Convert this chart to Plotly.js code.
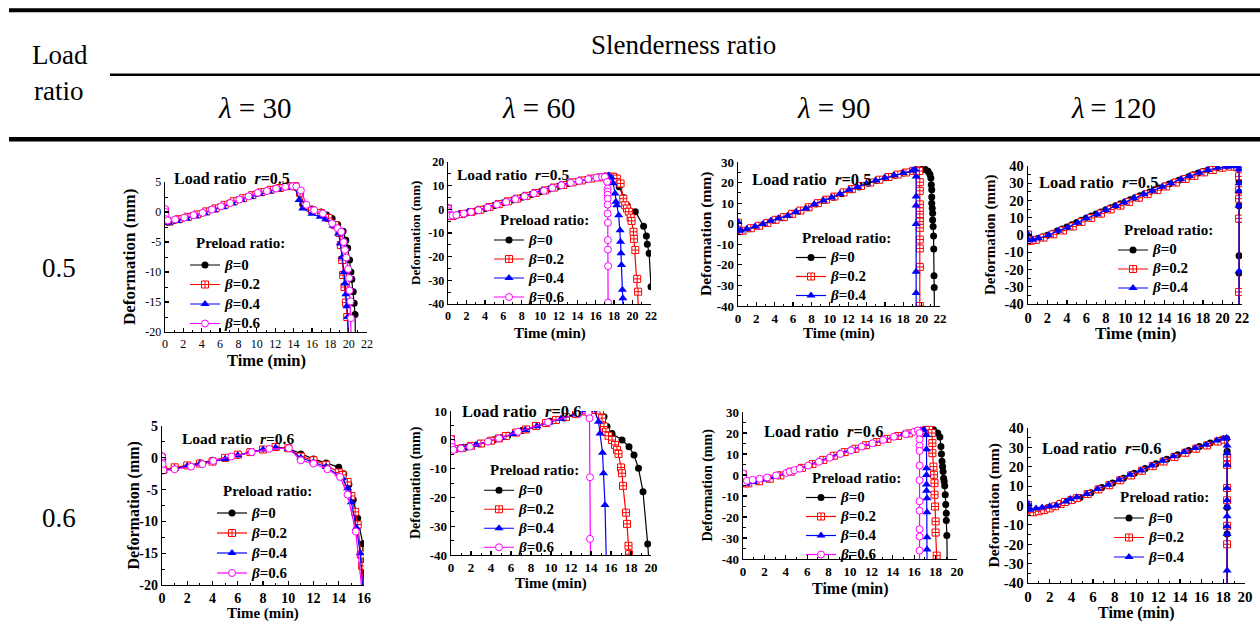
<!DOCTYPE html>
<html>
<head>
<meta charset="utf-8">
<script src="https://cdn.plot.ly/plotly-3.0.1.min.js"></script>
<style>
  html, body { margin: 0; padding: 0; background: #ffffff; }
  #chart { width: 1260px; height: 639px; }
</style>
</head>
<body>
<div id="chart"></div>
<script>
// ---- Table headings ----
const loadRatios = ['0.5', '0.6'];
const slenderness = ['30', '60', '90', '120'];
const preloadRatios = ['0', '0.2', '0.4', '0.6'];

// ---- Deformation (mm) vs time (min) ----
// lambda = 30, r = 0.5
const l30r5_b0_t = [0, 0.05, 0.3, 1, 2, 3, 4, 5, 6, 7, 8, 9, 10, 11, 12, 13, 13.8, 14.3, 15, 16, 17, 17.6, 18.2, 18.8, 19.4, 19.7, 19.9, 20.1, 20.25, 20.35, 20.5, 20.6, 20.7, 20.75];
const l30r5_b0_d = [0.3, -1.6, -1.7, -1.4, -1.0, -0.6, -0.2, 0.4, 0.9, 1.5, 2.1, 2.6, 3.1, 3.5, 3.9, 4.2, 4.3, 4.1, 1.3, 0.5, 0.0, -0.5, -1.1, -2.1, -3.2, -4.7, -6.0, -8.0, -10.0, -11.2, -13.3, -15.2, -17.1, -22];
const l30r5_b2_t = [0, 0.05, 0.5, 1.5, 2.5, 3.5, 4.5, 5.5, 6.5, 7.5, 8.5, 9.5, 10.5, 11.5, 12.5, 13.5, 14.2, 14.7, 15.2, 16, 17, 17.8, 18.5, 19, 19.15, 19.3, 19.4, 19.55, 19.7, 19.85, 20];
const l30r5_b2_d = [0.2, -1.5, -1.6, -1.2, -0.8, -0.4, 0.1, 0.6, 1.2, 1.8, 2.3, 2.8, 3.3, 3.7, 4.0, 4.3, 4.3, 3.2, 1.0, 0.3, -0.2, -1.0, -2.2, -3.5, -5.5, -8.0, -10.5, -12.5, -15.1, -17.5, -22];
const l30r5_b4_t = [0, 0.05, 0.4, 1.3, 2.3, 3.3, 4.3, 5.3, 6.3, 7.3, 8.3, 9.3, 10.3, 11.3, 12.3, 13.3, 14.1, 14.6, 15, 16, 16.9, 17.5, 18.3, 18.9, 19.1, 19.3, 19.5, 19.6, 19.7, 19.8, 19.9, 20];
const l30r5_b4_d = [0.2, -1.7, -1.8, -1.5, -1.1, -0.7, -0.2, 0.3, 0.8, 1.4, 2.0, 2.5, 3.0, 3.4, 3.8, 4.1, 4.2, 2.0, 0.6, -0.3, -0.8, -1.2, -2.3, -3.6, -5.2, -7.5, -10.0, -11.9, -13.7, -15.7, -17.5, -22];
const l30r5_b6_t = [0, 0.03, 0.06, 0.1, 0.3, 1.1, 2.1, 3.1, 4.1, 5.1, 6.1, 7.1, 8.1, 9.1, 10.1, 11.1, 12.1, 13.1, 13.9, 14.3, 14.8, 15.4, 16.25, 17.2, 18.2, 18.8, 19.2, 19.45, 19.6, 19.75, 19.95, 20.05, 20.1, 20.2, 20.25, 20.3];
const l30r5_b6_d = [0.5, 0.0, -0.6, -1.2, -1.4, -1.25, -0.92, -0.53, -0.14, 0.41, 0.96, 1.5, 2.07, 2.6, 3.2, 3.5, 3.9, 4.2, 4.3, 4.25, 3.6, 1.2, 0.3, -0.25, -1.9, -2.7, -3.3, -5.0, -6.3, -7.6, -9.5, -11.0, -13.1, -14.9, -17.7, -22];

// lambda = 60, r = 0.5
const l60r5_b0_t = [0, 0.05, 0.3, 1, 2, 3, 4, 5, 6, 7, 8, 9, 10, 11, 12, 13, 14, 15, 16, 17, 17.6, 18.1, 18.55, 19.0, 19.4, 20.3, 21.2, 21.5, 21.6, 21.8, 22.0];
const l60r5_b0_d = [0.5, -2.8, -2.9, -2.4, -1.5, -0.7, 0.4, 1.6, 2.8, 3.9, 5.1, 6.3, 7.4, 8.6, 9.8, 10.9, 11.8, 12.6, 13.3, 13.8, 14.0, 13.8, 9.5, 5.0, 1.7, -1.0, -7.1, -11.3, -14.8, -18.6, -32.7];
const l60r5_b2_t = [0, 0.05, 0.5, 1.5, 2.5, 3.5, 4.5, 5.5, 6.5, 7.5, 8.5, 9.5, 10.5, 11.5, 12.5, 13.5, 14.5, 15.5, 16.5, 17.3, 17.9, 18.3, 18.7, 19.0, 19.2, 19.4, 19.6, 19.8, 19.9, 20.1, 20.15, 20.3, 20.5, 20.6, 20.7];
const l60r5_b2_d = [0.4, -2.9, -2.8, -2.0, -1.1, -0.2, 1.0, 2.2, 3.4, 4.5, 5.7, 6.9, 8.0, 9.2, 10.3, 11.4, 12.2, 13.0, 13.5, 13.9, 13.8, 13.0, 10.9, 4.5, 1.7, 0.3, -1.0, -3.5, -4.9, -9.5, -12.5, -17.2, -29.4, -34.8, -45];
const l60r5_b4_t = [0, 0.05, 0.3, 1.2, 2.2, 3.2, 4.2, 5.2, 6.2, 7.2, 8.2, 9.2, 10.2, 11.2, 12.2, 13.2, 14.2, 15.2, 16.2, 17.0, 17.4, 17.7, 17.9, 18.1, 18.2, 18.3, 18.5, 18.65, 18.7, 18.75, 18.8, 18.9, 18.95, 19.0];
const l60r5_b4_d = [0.6, -2.6, -2.7, -2.0, -1.1, -0.3, 0.9, 2.1, 3.3, 4.5, 5.7, 6.8, 8.0, 9.2, 10.3, 11.3, 12.1, 12.9, 13.6, 14.0, 14.3, 13.5, 11.0, 6.7, 3.2, 1.7, -2.5, -8.8, -13.7, -18.6, -23.5, -34.0, -37.6, -45];
const l60r5_b6_t = [0, 0.03, 0.06, 0.2, 0.5, 0.9, 1.7, 2.5, 3.3, 4.3, 5.3, 6.3, 7.3, 8.3, 9.3, 10.4, 11.3, 12.3, 13.3, 14.2, 15.2, 16.1, 16.7, 17.0, 17.25, 17.3, 17.3, 17.3, 17.3, 17.3, 17.3, 17.33, 17.33, 17.33, 17.35, 17.35];
const l60r5_b6_d = [0.3, -0.8, -2.2, -2.75, -2.6, -2.4, -1.8, -1.1, -0.4, 0.75, 2.0, 3.1, 4.3, 5.5, 6.7, 7.8, 9.0, 10.2, 11.2, 12.0, 12.8, 13.4, 13.7, 13.7, 11.6, 8.8, 7.5, 6.2, 4.5, 2.0, -1.8, -5.7, -13.0, -17.0, -24.0, -39.4];

// lambda = 90, r = 0.5
const l90r5_b0_t = [0, 0.05, 0.4, 1.2, 2.1, 3.0, 3.9, 4.8, 5.7, 6.6, 7.6, 8.5, 9.4, 10.4, 11.3, 12.3, 13.2, 14.2, 15.1, 16.1, 17.1, 18.0, 18.9, 19.5, 20.0, 20.4, 20.7, 20.9, 21.0, 21.05, 21.1, 21.1, 21.1, 21.15, 21.2, 21.2, 21.25, 21.3, 21.32, 21.35, 21.37, 21.4];
const l90r5_b0_d = [0.5, -3.5, -3.4, -2.4, -1.2, 0.2, 1.7, 2.9, 4.4, 6.0, 7.8, 9.6, 11.3, 12.9, 14.6, 16.5, 17.9, 19.7, 21.0, 22.4, 23.6, 24.6, 25.6, 26.1, 26.3, 26.3, 25.5, 24.0, 22.2, 19.0, 16.5, 13.0, 10.0, 7.5, 5.1, 1.8, -1.4, -6.0, -12.3, -25.3, -31.0, -45];
const l90r5_b2_t = [0, 0.05, 0.5, 1.4, 2.3, 3.2, 4.1, 5.0, 5.9, 6.8, 7.7, 8.7, 9.6, 10.5, 11.5, 12.4, 13.4, 14.4, 15.4, 16.4, 17.4, 18.3, 19.1, 19.5, 19.75, 19.8, 19.8, 19.8, 19.8, 19.8, 19.8, 19.8, 19.8, 19.8, 19.8, 19.8];
const l90r5_b2_d = [0.5, -3.6, -3.4, -2.2, -1.0, 0.4, 1.9, 3.2, 4.8, 6.4, 8.0, 10.0, 11.7, 13.2, 15.2, 16.8, 18.4, 20.0, 21.4, 22.7, 23.9, 24.9, 25.7, 25.9, 25.6, 20.2, 16.0, 9.4, 6.0, 3.0, 1.0, -2.0, -7.7, -12.0, -21.0, -40];
const l90r5_b4_t = [0, 0.05, 0.3, 0.94, 1.85, 2.7, 3.56, 4.4, 5.4, 6.3, 7.4, 8.3, 9.3, 10.2, 11.1, 12.1, 13.0, 14.0, 15.0, 16.0, 17.0, 18.0, 19.0, 19.3, 19.4, 19.4, 19.4, 19.4, 19.4, 19.4, 19.4];
const l90r5_b4_d = [0.8, -3.4, -3.3, -2.6, -1.4, -0.1, 1.4, 2.6, 3.9, 5.7, 7.4, 9.5, 11.3, 12.7, 14.5, 16.5, 17.8, 19.6, 21.0, 22.3, 23.5, 24.6, 25.8, 26.3, 23.0, 13.2, 8.8, -0.1, -23.4, -33.7, -45];

// lambda = 120, r = 0.5
const l120r5_b0_t = [0, 0.05, 0.3, 0.6, 1.0, 1.5, 2.0, 2.5, 3.0, 3.5, 4.0, 4.5, 5.0, 5.5, 6.0, 6.5, 7.0, 7.5, 8.0, 8.5, 9.0, 9.5, 10.0, 10.5, 11.0, 11.5, 12.0, 12.5, 13.0, 13.5, 14.0, 14.5, 15.0, 15.5, 16.0, 16.5, 17.0, 17.5, 18.0, 18.5, 19.0, 19.5, 20.0, 20.5, 21.0, 21.5, 21.7, 21.7, 21.7, 21.7, 21.7, 21.7];
const l120r5_b0_d = [0.5, -3.0, -3.0, -2.6, -2.0, -1.2, -0.2, 1.0, 2.3, 3.5, 4.6, 5.9, 7.2, 8.5, 9.8, 11.0, 12.2, 13.4, 14.6, 15.8, 17.0, 18.1, 19.3, 20.5, 21.6, 22.7, 23.9, 25.0, 26.2, 27.3, 28.4, 29.5, 30.6, 31.7, 32.8, 33.8, 34.9, 35.9, 36.8, 37.7, 38.4, 39.0, 39.5, 39.8, 40.0, 40.0, 31.0, 17.0, 9.0, -12.0, -22.0, -45];
const l120r5_b2_t = [0, 0.05, 0.3, 0.8, 1.6, 2.6, 3.6, 4.6, 5.5, 6.5, 7.5, 8.5, 9.5, 10.4, 11.4, 12.3, 13.3, 14.2, 15.2, 16.2, 17.1, 18.1, 19.0, 20.0, 20.9, 21.5, 21.7, 21.7, 21.7, 21.7, 21.7, 21.7];
const l120r5_b2_d = [0.3, -3.3, -3.3, -2.8, -1.5, 0.4, 2.6, 4.9, 7.6, 9.9, 12.4, 14.8, 17.0, 19.2, 21.6, 23.7, 26.0, 28.1, 30.4, 32.5, 34.3, 36.3, 37.7, 39.0, 39.6, 39.7, 34.0, 26.0, 21.0, 9.5, -33.0, -45];
const l120r5_b4_t = [0, 0.05, 0.5, 1.07, 2.1, 3.1, 4.05, 5.1, 6.0, 7.1, 8.0, 9.0, 9.9, 10.9, 11.9, 12.8, 13.8, 14.7, 15.7, 16.6, 17.6, 18.5, 19.5, 20.4, 21.1, 21.6, 21.7, 21.7, 21.7, 21.7, 21.7, 21.7];
const l120r5_b4_d = [0.5, -3.0, -2.7, -1.9, 0.0, 2.5, 4.4, 7.1, 9.7, 12.0, 14.5, 16.8, 18.9, 21.3, 23.6, 25.7, 28.0, 30.0, 32.3, 34.2, 36.1, 37.7, 39.0, 39.6, 39.8, 39.8, 38.0, 30.0, 25.5, 17.0, -21.0, -45];

// lambda = 30, r = 0.6
const l30r6_b0_t = [0, 0.1, 1, 2, 3, 4, 5, 6, 7, 8, 9, 10, 11, 12, 13, 14, 14.4, 14.8, 15.15, 15.5, 15.9, 16.02];
const l30r6_b0_d = [0.3, -1.8, -1.6, -1.2, -0.8, -0.4, -0.1, 0.4, 0.9, 1.3, 1.6, 1.5, 0.6, -0.2, -0.8, -1.5, -2.5, -4.2, -6.6, -9.5, -13.5, -22];
const l30r6_b2_t = [0, 0.1, 1, 2, 3, 4, 5, 6, 7, 8, 9, 10, 11, 12, 13, 14, 14.3, 14.7, 15.0, 15.3, 15.5, 15.75, 15.85, 16.0];
const l30r6_b2_d = [0.0, -1.9, -1.5, -1.2, -0.9, -0.6, 0.0, 0.5, 0.9, 1.3, 1.7, 1.5, 0.2, -0.4, -1.1, -2.3, -2.7, -3.8, -6.0, -8.5, -10.5, -15.2, -17.0, -22];
const l30r6_b4_t = [0, 0.1, 1, 2, 3, 4, 5, 6, 7, 8, 9, 10, 11, 12, 13, 14.3, 14.7, 15.0, 15.4, 15.7, 15.95];
const l30r6_b4_d = [0.0, -2.0, -1.7, -1.3, -0.9, -0.6, -0.2, 0.4, 0.9, 1.3, 1.6, 1.4, 0.0, -0.7, -1.4, -3.2, -4.8, -7.0, -11.0, -15.0, -22];
const l30r6_b6_t = [0, 0.05, 0.1, 1.0, 2.3, 3.2, 4.06, 5.5, 7.1, 8.5, 10.05, 11.0, 12.0, 13.1, 14.1, 14.7, 15.35, 15.9];
const l30r6_b6_d = [0.2, -1.0, -2.0, -1.8, -1.4, -1.0, -0.5, 0.2, 0.9, 1.4, 1.5, -0.4, -0.9, -1.8, -3.0, -5.8, -11.6, -22];

// lambda = 60, r = 0.6
const l60r6_b0_t = [0, 0.05, 0.3, 1.5, 2.9, 4.3, 5.7, 7.1, 8.5, 9.9, 11.3, 12.7, 14.0, 14.9, 15.3, 15.6, 16.1, 17.1, 17.8, 18.3, 18.75, 19.2, 19.67, 19.85];
const l60r6_b0_d = [0.3, -2.5, -3.0, -2.6, -1.4, 0.0, 1.6, 3.2, 4.8, 6.4, 7.6, 8.8, 10.2, 10.3, 8.0, 4.6, 2.2, -0.1, -2.4, -5.3, -9.9, -18.0, -36.2, -45];
const l60r6_b2_t = [0, 0.05, 0.3, 1.1, 2.0, 3.0, 4.0, 4.8, 5.5, 6.5, 7.5, 8.5, 9.5, 10.5, 11.5, 12.5, 13.5, 14.5, 14.9, 15.1, 15.3, 15.5, 15.75, 16.1, 16.4, 16.6, 16.75, 17.0, 17.1, 17.2, 17.5, 17.6, 17.75, 17.8, 17.85];
const l60r6_b2_d = [0.2, -2.6, -3.2, -2.9, -2.1, -1.3, -0.3, 0.5, 1.3, 2.5, 3.6, 4.8, 5.8, 6.9, 7.9, 8.9, 9.8, 10.4, 9.0, 7.5, 4.6, 2.8, 1.4, -0.1, -1.8, -3.5, -4.9, -9.6, -11.6, -16.0, -25.3, -29.2, -36.8, -39.7, -45];
const l60r6_b4_t = [0, 0.05, 0.3, 1.2, 2.5, 3.7, 5.0, 6.2, 7.4, 8.6, 9.8, 11.0, 12.4, 13.5, 14.3, 14.75, 14.9, 15.15, 15.25, 15.4, 15.55];
const l60r6_b4_d = [0.3, -2.4, -3.0, -2.7, -1.7, -0.6, 0.7, 2.0, 3.4, 4.7, 6.0, 7.3, 8.8, 10.3, 10.5, 6.3, 2.2, -4.5, -11.6, -22.6, -45];
const l60r6_b6_t = [0, 0.05, 0.1, 0.23, 1.0, 1.9, 3.7, 4.8, 6.7, 9.7, 12.75, 13.75, 13.85, 13.9, 13.9, 13.95];
const l60r6_b6_d = [0.3, -1.0, -2.5, -3.5, -3.0, -2.4, -0.6, 0.5, 2.8, 6.1, 9.0, 9.2, 7.5, -13.0, -34.4, -45];

// lambda = 90, r = 0.6
const l90r6_b0_t = [0, 0.05, 0.4, 1.4, 2.4, 3.4, 4.4, 5.4, 6.4, 7.4, 8.4, 9.4, 10.4, 11.4, 12.4, 13.4, 14.4, 15.4, 16.4, 17.3, 17.8, 18.2, 18.4, 18.5, 18.55, 18.6, 18.65, 18.7, 18.75, 18.8, 18.85, 18.9, 18.95, 19.0, 19.0, 19.05, 19.1];
const l90r6_b0_d = [0.3, -3.8, -4.0, -2.8, -1.6, 0.0, 1.6, 3.2, 5.0, 7.0, 8.9, 10.6, 12.2, 13.9, 15.4, 16.9, 18.3, 19.6, 20.6, 21.4, 21.6, 20.0, 18.1, 13.6, 10.0, 6.5, 4.0, 1.7, -1.5, -3.0, -5.1, -9.4, -14.0, -18.2, -21.7, -28.8, -45];
const l90r6_b2_t = [0, 0.05, 0.5, 1.5, 2.5, 3.5, 4.5, 5.5, 6.5, 7.5, 8.5, 9.5, 10.5, 11.5, 12.5, 13.5, 14.5, 15.5, 16.5, 17.1, 17.4, 17.65, 17.7, 17.7, 17.8, 17.85, 17.9, 17.9, 17.95, 18.0, 18.0, 18.1, 18.12];
const l90r6_b2_d = [0.3, -4.0, -4.0, -3.0, -1.8, -0.2, 1.6, 3.4, 5.2, 7.2, 9.2, 10.9, 12.5, 14.2, 15.7, 17.2, 18.6, 19.8, 20.8, 21.4, 21.5, 20.0, 15.2, 10.4, 4.0, 0.1, -3.9, -9.4, -15.0, -22.1, -27.4, -38.4, -45];
const l90r6_b4_t = [0, 0.05, 0.3, 1.0, 2.0, 3.0, 4.0, 5.0, 6.0, 7.0, 8.0, 9.0, 10.0, 11.0, 12.0, 13.0, 14.0, 15.0, 16.0, 16.6, 16.9, 17.15, 17.15, 17.15, 17.15, 17.15, 17.15, 17.2, 17.2, 17.2, 17.2, 17.2];
const l90r6_b4_d = [0.5, -3.8, -4.2, -3.3, -2.2, -0.8, 0.9, 2.5, 4.4, 6.4, 8.2, 10.4, 11.9, 13.5, 15.0, 16.6, 18.1, 19.5, 20.6, 21.3, 21.5, 19.0, 12.3, 3.2, 0.0, -4.5, -7.5, -11.1, -17.7, -29.7, -35.5, -45];
const l90r6_b6_t = [0, 0.05, 0.1, 0.37, 0.9, 1.56, 2.25, 3.1, 4.05, 4.36, 4.8, 5.3, 6.1, 7.1, 8.1, 9.1, 10.1, 11.1, 12.1, 13.1, 14.1, 15.2, 16.0, 16.35, 16.5, 16.5, 16.5, 16.5, 16.5, 16.5, 16.5, 16.5, 16.5, 16.5, 16.5, 16.5];
const l90r6_b6_d = [0.8, -1.5, -3.5, -2.75, -2.3, -1.8, -1.2, -0.2, 1.0, 1.6, 2.3, 3.0, 4.5, 6.3, 8.2, 10.0, 11.7, 13.5, 15.1, 16.7, 18.2, 19.4, 20.6, 21.2, 20.0, 17.0, 14.0, 11.5, 4.5, -2.5, -12.5, -17.0, -25.8, -29.3, -36.0, -45];

// lambda = 120, r = 0.6
const l120r6_b0_t = [0, 0.05, 0.3, 0.8, 1.3, 1.8, 2.4, 3.0, 3.6, 4.2, 4.8, 5.8, 6.8, 7.8, 8.8, 9.8, 10.8, 11.8, 12.8, 13.8, 14.8, 15.8, 16.8, 17.8, 18.3, 18.35, 18.35, 18.35, 18.35, 18.35];
const l120r6_b0_d = [0.5, -2.0, -3.0, -2.5, -2.0, -1.2, -0.2, 1.0, 2.1, 3.1, 4.1, 6.6, 9.3, 11.6, 14.1, 16.7, 19.1, 21.6, 23.9, 26.2, 28.4, 30.5, 32.2, 33.9, 34.6, 28.0, 21.0, -1.0, -14.7, -45];
const l120r6_b2_t = [0, 0.05, 0.5, 1.0, 1.5, 2.0, 2.5, 3.0, 3.4, 4.0, 4.5, 5.5, 6.5, 7.5, 8.5, 9.5, 10.5, 11.5, 12.5, 13.5, 14.5, 15.5, 16.5, 17.5, 18.1, 18.35, 18.35, 18.35, 18.35, 18.35, 18.35, 18.35];
const l120r6_b2_d = [0.3, -2.5, -3.5, -3.0, -2.3, -1.5, -0.4, 0.8, 1.8, 2.8, 3.8, 5.9, 8.3, 10.5, 13.0, 15.5, 17.9, 20.3, 22.7, 25.0, 27.2, 29.3, 31.0, 33.0, 34.0, 25.0, 21.0, 9.0, 2.7, -10.5, -20.0, -45];
const l120r6_b4_t = [0, 0.05, 0.1, 0.74, 1.3, 2.0, 2.6, 3.5, 3.9, 4.5, 5.4, 6.4, 7.4, 8.4, 9.4, 10.4, 11.4, 12.4, 13.4, 14.4, 15.4, 16.4, 17.4, 18.0, 18.3, 18.35, 18.35, 18.35, 18.35, 18.35, 18.35, 18.35, 18.35, 18.35, 18.35, 18.35];
const l120r6_b4_d = [0.9, -1.0, -2.2, -1.5, -1.0, -0.4, 0.0, 2.1, 3.3, 4.2, 5.9, 8.5, 10.7, 13.3, 15.9, 18.1, 20.6, 23.1, 25.4, 27.6, 29.7, 31.4, 33.6, 34.5, 34.8, 31.0, 27.0, 21.0, 9.0, 2.7, -0.8, -5.5, -10.7, -14.7, -33.6, -45];

// ---- Drawing ----
const FONT = '"Liberation Serif", "Times New Roman", Times, serif';
const W = 1260, H = 639;
const fx = v => v / W;
const fy = v => 1 - v / H;

const traceStyle = [
  { color: '#000000', symbol: 'circle', fill: '#000000', size: 7, lw: 0 },
  { color: '#ff0000', symbol: 'square-cross', fill: '#ffffff', size: 7, lw: 1 },
  { color: '#0000ff', symbol: 'triangle-up', fill: '#0000ff', size: 8, lw: 0 },
  { color: '#ff00ff', symbol: 'circle', fill: '#ffffff', size: 7, lw: 1 }
];

// panel geometry in pixels: box = [left, right, top, bottom]
// lg = [legend line start x, "Preload ratio:" centre y, first entry centre y, entry spacing]
const panels = [
  { r: 0, box: [165, 367, 182, 332], xr: [0, 22], xdt: 2, yr: [-20, 5], ydt: 5,
    series: [[l30r5_b0_t, l30r5_b0_d], [l30r5_b2_t, l30r5_b2_d], [l30r5_b4_t, l30r5_b4_d], [l30r5_b6_t, l30r5_b6_d]],
    tick: 12, tickW: 'normal', xt: [360, 16.5], yt: [129, 17], note: [172, 178, 16], lg: [195, 243, 265, 19.5] },
  { r: 0, box: [448, 651, 162, 304], xr: [0, 22], xdt: 2, yr: [-40, 20], ydt: 10,
    series: [[l60r5_b0_t, l60r5_b0_d], [l60r5_b2_t, l60r5_b2_d], [l60r5_b4_t, l60r5_b4_d], [l60r5_b6_t, l60r5_b6_d]],
    tick: 12, tickW: 'bold', xt: [333, 15], yt: [416, 13], note: [455, 175, 15.5], lg: [499, 220, 240, 19] },
  { r: 0, box: [738, 940, 162, 306], xr: [0, 22], xdt: 2, yr: [-40, 30], ydt: 10,
    series: [[l90r5_b0_t, l90r5_b0_d], [l90r5_b2_t, l90r5_b2_d], [l90r5_b4_t, l90r5_b4_d]],
    tick: 13, tickW: 'bold', xt: [333, 15], yt: [706, 15.5], note: [750, 179, 16.5], lg: [801, 238, 257, 18] },
  { r: 0, box: [1028, 1242, 166, 304], xr: [0, 22], xdt: 2, yr: [-40, 40], ydt: 10,
    series: [[l120r5_b0_t, l120r5_b0_d], [l120r5_b2_t, l120r5_b2_d], [l120r5_b4_t, l120r5_b4_d]],
    tick: 14.5, tickW: 'bold', xt: [333, 17], yt: [990, 15], note: [1037, 182, 16.5], lg: [1123, 230, 249, 17] },
  { r: 1, box: [162, 364, 426, 585], xr: [0, 16], xdt: 2, yr: [-20, 5], ydt: 5,
    series: [[l30r6_b0_t, l30r6_b0_d], [l30r6_b2_t, l30r6_b2_d], [l30r6_b4_t, l30r6_b4_d], [l30r6_b6_t, l30r6_b6_d]],
    tick: 14, tickW: 'bold', xt: [613, 15], yt: [133, 16], note: [180, 438, 15.5], lg: [222, 491, 513, 20] },
  { r: 1, box: [451, 651, 411, 555], xr: [0, 20], xdt: 2, yr: [-40, 10], ydt: 10,
    series: [[l60r6_b0_t, l60r6_b0_d], [l60r6_b2_t, l60r6_b2_d], [l60r6_b4_t, l60r6_b4_d], [l60r6_b6_t, l60r6_b6_d]],
    tick: 13, tickW: 'bold', xt: [583, 15], yt: [416, 14], note: [460, 411, 16.5], lg: [489, 470, 490, 18.5] },
  { r: 1, box: [743, 957, 412, 559], xr: [0, 20], xdt: 2, yr: [-40, 30], ydt: 10,
    series: [[l90r6_b0_t, l90r6_b0_d], [l90r6_b2_t, l90r6_b2_d], [l90r6_b4_t, l90r6_b4_d], [l90r6_b6_t, l90r6_b6_d]],
    tick: 13, tickW: 'bold', xt: [589, 16], yt: [707, 14], note: [762, 431, 16.5], lg: [811, 478, 497, 18] },
  { r: 1, box: [1028, 1245, 428, 583], xr: [0, 20], xdt: 2, yr: [-40, 40], ydt: 10,
    series: [[l120r6_b0_t, l120r6_b0_d], [l120r6_b2_t, l120r6_b2_d], [l120r6_b4_t, l120r6_b4_d]],
    tick: 15, tickW: 'bold', xt: [613, 16], yt: [993, 15.5], note: [1040, 448, 16.5], lg: [1119, 497, 518, 19.5] }
];

function tickList(range, step) {
  const out = [];
  for (let v = range[0]; v <= range[1] + 1e-9; v += step) out.push(Math.round(v * 100) / 100);
  return out;
}

const traces = [];
const layout = {
  width: W, height: H,
  margin: { l: 0, r: 0, t: 0, b: 0, pad: 0 },
  paper_bgcolor: '#ffffff', plot_bgcolor: 'rgba(0,0,0,0)',
  showlegend: true,
  font: { family: FONT, color: '#000000' },
  annotations: [], shapes: []
};

const boldFont = size => ({ family: FONT, size: size, weight: 'bold', color: '#000' });

panels.forEach((p, i) => {
  const n = i === 0 ? '' : String(i + 1);
  const [x0, x1, y0, y1] = p.box;
  const xv = tickList(p.xr, p.xdt), yv = tickList(p.yr, p.ydt);
  const tf = { family: FONT, size: p.tick, color: '#000', weight: p.tickW };
  const common = {
    showline: true, linecolor: '#000', linewidth: 1.3, mirror: false,
    ticks: 'inside', ticklen: 4, tickwidth: 1.2, tickcolor: '#000',
    tickmode: 'array', showgrid: false, zeroline: false, fixedrange: true,
    tickfont: tf
  };
  layout['xaxis' + n] = Object.assign({}, common, {
    domain: [fx(x0), fx(x1)], range: p.xr, anchor: 'y' + n,
    tickvals: xv, ticktext: xv.map(String),
    minor: { tickmode: 'linear', tick0: 0, dtick: p.xdt / 2, ticks: 'inside', ticklen: 2.5, tickwidth: 1, tickcolor: '#000' }
  });
  layout['yaxis' + n] = Object.assign({}, common, {
    domain: [fy(y1), fy(y0)], range: p.yr, anchor: 'x' + n,
    tickvals: yv, ticktext: yv.map(String),
    minor: { tickmode: 'linear', tick0: 0, dtick: p.ydt / 2, ticks: 'inside', ticklen: 2.5, tickwidth: 1, tickcolor: '#000' }
  });

  p.series.forEach((s, k) => {
    const st = traceStyle[k];
    traces.push({
      type: 'scatter', mode: 'lines+markers',
      x: s[0], y: s[1], xaxis: 'x' + n, yaxis: 'y' + n,
      legend: 'legend' + n,
      name: '<span style="font-size:15px"><i>β</i>=' + preloadRatios[k] + '</span>',
      line: { color: st.color, width: 1.2 },
      marker: { symbol: st.symbol, size: st.size, color: st.fill, line: { color: st.color, width: st.lw } },
      cliponaxis: true, hoverinfo: 'skip'
    });
  });

  // legend entries; the entry pitch follows the legend font size (1.3 * size + 3)
  const [lgX, titleY, firstY, pitch] = p.lg;
  const lgSize = (pitch - 3) / 1.3;
  layout['legend' + n] = {
    x: fx(lgX - 10), y: fy(firstY - pitch / 2 - 5), xanchor: 'left', yanchor: 'top',
    bgcolor: 'rgba(0,0,0,0)', borderwidth: 0, tracegroupgap: 0, itemwidth: 30,
    font: { family: FONT, size: lgSize, weight: 'bold', color: '#000' }
  };
  layout.annotations.push({
    xref: 'paper', yref: 'paper', x: fx(lgX - 1), y: fy(titleY),
    xanchor: 'left', yanchor: 'middle', showarrow: false,
    text: 'Preload ratio:', font: boldFont(15)
  });

  // axis titles and load-ratio note
  layout.annotations.push({
    xref: 'paper', yref: 'paper', x: fx((x0 + x1) / 2), y: fy(p.xt[0]),
    xanchor: 'center', yanchor: 'middle', showarrow: false,
    text: 'Time (min)', font: boldFont(p.xt[1])
  });
  layout.annotations.push({
    xref: 'paper', yref: 'paper', x: fx(p.yt[0]), y: fy((y0 + y1) / 2),
    xanchor: 'center', yanchor: 'middle', showarrow: false, textangle: -90,
    text: 'Deformation (mm)', font: boldFont(p.yt[1])
  });
  layout.annotations.push({
    xref: 'paper', yref: 'paper', x: fx(p.note[0]), y: fy(p.note[1]),
    xanchor: 'left', yanchor: 'middle', showarrow: false,
    text: 'Load ratio  <i>r</i>=' + loadRatios[p.r], font: boldFont(p.note[2])
  });
});

// table frame
const rule = (x0, x1, y, w) => ({ type: 'line', xref: 'paper', yref: 'paper', x0: fx(x0), x1: fx(x1), y0: fy(y), y1: fy(y), line: { color: '#000', width: w } });
layout.shapes.push(rule(9, 1260, 10.3, 4), rule(110, 1260, 74.7, 2.4), rule(9, 1260, 139.2, 4.5));

const headText = (x, y, text, size) => ({
  xref: 'paper', yref: 'paper', x: fx(x), y: fy(y), xanchor: 'center', yanchor: 'middle',
  showarrow: false, text: text, font: { family: FONT, size: size, weight: 'normal', color: '#000' }
});
layout.annotations.push(headText(59.5, 55, 'Load', 27));
layout.annotations.push(headText(58, 91, 'ratio', 27));
layout.annotations.push(headText(683, 45, 'Slenderness ratio', 27));
const lamX = [254, 538, 833, 1113];
slenderness.forEach((s, j) => {
  const sep = s.length > 2 ? '\u2009=\u2009' : ' = ';
  layout.annotations.push(headText(lamX[j], 108, '<i>λ</i>' + sep + s, 29));
});
layout.annotations.push(headText(59, 268, loadRatios[0], 27));
layout.annotations.push(headText(59, 518, loadRatios[1], 27));

Plotly.newPlot('chart', traces, layout, { staticPlot: true, displayModeBar: false });
</script>
</body>
</html>
